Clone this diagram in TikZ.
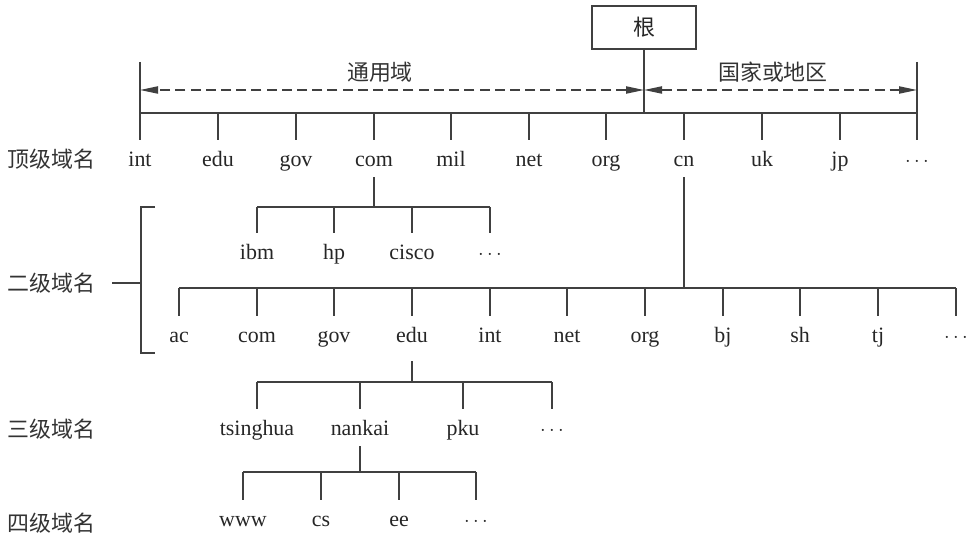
\documentclass[tikz,border=0pt]{standalone}
\usepackage{fontspec}
\setmainfont{Liberation Serif}
\newfontfamily\cjk{Noto Sans CJK SC}
\usepackage{tikz}
\usetikzlibrary{arrows.meta}
\tikzset{
  dom/.style={
    anchor=base, inner xsep=0pt, inner ysep=0pt,
    text height=0.675cm, text depth=0.25cm,
    font=\fontsize{15.6}{18}\selectfont, text=black!85
  },
  lvl/.style={
    anchor=west, inner sep=0pt,
    font=\cjk\fontsize{15.6}{18}\selectfont, text=black!80
  },
  note/.style={inner sep=0pt, font=\cjk\fontsize{15.6}{18}\selectfont, text=black!80},
  rootbox/.style={
    rectangle, draw=black!75, line width=1pt, inner sep=0pt,
    minimum width=2.6cm, minimum height=1.075cm,
    font=\cjk\fontsize{15.6}{18}\selectfont, text=black!85
  },
  wire/.style={line width=1pt, black!75},
  span/.style={wire, dash pattern=on 0.25cm off 0.13cm,
    {Triangle[length=0.45cm,width=0.18cm]}-{Triangle[length=0.45cm,width=0.18cm]}},
}

\begin{document}
\begin{tikzpicture}[x=0.025cm, y=-0.025cm]
  \useasboundingbox (0,0) rectangle (975,544);

  % Root and the two spans
  \node[rootbox] (root) at (644,27.5) {根};
  \coordinate (topbar) at (0,113);
  \coordinate (gl) at (140,62);
  \coordinate (gr) at (917,62);
  \coordinate (sl) at (140,90);
  \coordinate (sm) at (644,90);
  \coordinate (sr) at (917,90);
  \node[note] (generic) at (380,72) {通用域};
  \node[note] (country) at (773,72) {国家或地区};

  % Level names
  \node[lvl] (lv1) at (7,159) {顶级域名};
  \node[lvl] (lv2) at (7,283) {二级域名};
  \node[lvl] (lv3) at (7,429) {三级域名};
  \node[lvl] (lv4) at (7,523) {四级域名};

  % Top level
  \node[dom] (t-int) at (140,167) {int};
  \node[dom] (t-edu) at (218,167) {edu};
  \node[dom] (t-gov) at (296,167) {gov};
  \node[dom] (t-com) at (374,167) {com};
  \node[dom] (t-mil) at (451,167) {mil};
  \node[dom] (t-net) at (529,167) {net};
  \node[dom] (t-org) at (606,167) {org};
  \node[dom] (t-cn) at (684,167) {cn};
  \node[dom] (t-uk) at (762,167) {uk};
  \node[dom] (t-jp) at (840,167) {jp};
  \node[dom] (t-more) at (917,167) {$\cdots$};

  % Second level under com
  \node[dom] (a-ibm) at (257,260) {ibm};
  \node[dom] (a-hp) at (334,260) {hp};
  \node[dom] (a-cisco) at (412,260) {cisco};
  \node[dom] (a-more) at (490,260) {$\cdots$};

  % Second level under cn
  \node[dom] (b-ac) at (179,343) {ac};
  \node[dom] (b-com) at (257,343) {com};
  \node[dom] (b-gov) at (334,343) {gov};
  \node[dom] (b-edu) at (412,343) {edu};
  \node[dom] (b-int) at (490,343) {int};
  \node[dom] (b-net) at (567,343) {net};
  \node[dom] (b-org) at (645,343) {org};
  \node[dom] (b-bj) at (723,343) {bj};
  \node[dom] (b-sh) at (800,343) {sh};
  \node[dom] (b-tj) at (878,343) {tj};
  \node[dom] (b-more) at (956,343) {$\cdots$};

  % Third level under edu
  \node[dom] (c-tsinghua) at (257,436) {tsinghua};
  \node[dom] (c-nankai) at (360,436) {nankai};
  \node[dom] (c-pku) at (463,436) {pku};
  \node[dom] (c-more) at (552,436) {$\cdots$};

  % Fourth level under nankai
  \node[dom] (d-www) at (243,527) {www};
  \node[dom] (d-cs) at (321,527) {cs};
  \node[dom] (d-ee) at (399,527) {ee};
  \node[dom] (d-more) at (476,527) {$\cdots$};

  % Bus heights
  \coordinate (busa) at (0,207);
  \coordinate (busb) at (0,288);
  \coordinate (busc) at (0,382);
  \coordinate (busd) at (0,472);

  % Root to top level
  \draw[wire] (root) -- (root |- topbar);
  \draw[wire] (gl) -- (t-int.north);
  \draw[wire] (gr) -- (t-more.north);
  \draw[wire] (t-int.north |- topbar) -- (t-more.north |- topbar);
  \foreach \n in {edu,gov,com,mil,net,org,cn,uk,jp}
    \draw[wire] (t-\n.north) -- (t-\n.north |- topbar);
  \draw[span] (sm) -- (sl);
  \draw[span] (sm) -- (sr);

  % com branch
  \draw[wire] (t-com.south) -- (t-com.south |- busa);
  \draw[wire] (a-ibm.north |- busa) -- (a-more.north |- busa);
  \foreach \n in {ibm,hp,cisco,more}
    \draw[wire] (a-\n.north) -- (a-\n.north |- busa);

  % cn branch
  \draw[wire] (t-cn.south) -- (t-cn.south |- busb);
  \draw[wire] (b-ac.north |- busb) -- (b-more.north |- busb);
  \foreach \n in {ac,com,gov,edu,int,net,org,bj,sh,tj,more}
    \draw[wire] (b-\n.north) -- (b-\n.north |- busb);

  % edu branch
  \draw[wire, shorten <=0.2cm] (b-edu.south) -- (b-edu.south |- busc);
  \draw[wire] (c-tsinghua.north |- busc) -- (c-more.north |- busc);
  \foreach \n in {tsinghua,nankai,pku,more}
    \draw[wire] (c-\n.north) -- (c-\n.north |- busc);

  % nankai branch
  \draw[wire] (c-nankai.south) -- (c-nankai.south |- busd);
  \draw[wire] (d-www.north |- busd) -- (d-more.north |- busd);
  \foreach \n in {www,cs,ee,more}
    \draw[wire] (d-\n.north) -- (d-\n.north |- busd);

  % Bracket for second level
  \coordinate (brt) at (155,207);
  \coordinate (brb) at (155,353);
  \coordinate (brm) at (141,285);
  \draw[wire] (brt) -- ++(-14,0) |- (brb);
  \draw[wire, shorten <=0.425cm] (lv2.east) -- (lv2.east -| brm);
\end{tikzpicture}
\end{document}
